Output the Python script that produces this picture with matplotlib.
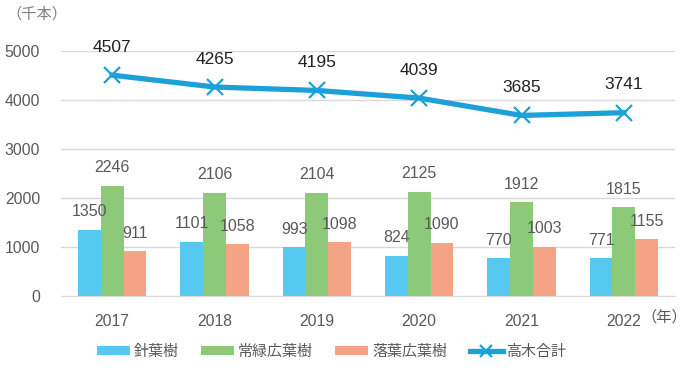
import matplotlib
matplotlib.use("Agg")
import matplotlib.pyplot as plt
from matplotlib.lines import Line2D
from matplotlib.patches import Patch
import numpy as np

plt.rcParams["font.family"] = ["Liberation Sans", "Noto Sans CJK JP", "DejaVu Sans"]

years = ["2017", "2018", "2019", "2020", "2021", "2022"]
conifer = [1350, 1101, 993, 824, 770, 771]
evergreen = [2246, 2106, 2104, 2125, 1912, 1815]
deciduous = [911, 1058, 1098, 1090, 1003, 1155]
total = [4507, 4265, 4195, 4039, 3685, 3741]
series_names = ["針葉樹", "常緑広葉樹", "落葉広葉樹", "高木合計"]

bar_colors = ["#55c9f0", "#8cca7a", "#f4a384"]
line_color = "#1ba1d8"
label_gray = "#595959"
jp_font = ["Noto Sans CJK JP", "DejaVu Sans"]

fig = plt.figure(figsize=(6.94, 3.71), dpi=100)
ax = fig.add_axes([61 / 694, 1 - 296 / 371, 614 / 694, 245 / 371])

x = np.arange(len(years))
width = 0.222
for i, (vals, color) in enumerate(zip([conifer, evergreen, deciduous], bar_colors)):
    pos = x + (i - 1) * width
    ax.bar(pos, vals, width=width, color=color, zorder=2)
    for px, v in zip(pos, vals):
        ax.annotate(str(v), (px, v), xytext=(0, 13), textcoords="offset points",
                    ha="center", va="center", fontsize=11.5, color=label_gray,
                    annotation_clip=False)

ax.plot(x, total, color=line_color, lw=3.8, marker="x", markersize=12,
        markeredgewidth=1.6, zorder=3, clip_on=False)
for px, v in zip(x, total):
    ax.annotate(str(v), (px, v), xytext=(0, 20), textcoords="offset points",
                ha="center", va="center", fontsize=12.5, color="#222222",
                annotation_clip=False)

ax.set_xlim(-0.5, len(years) - 0.5)
ax.set_ylim(0, 5000)
ax.set_yticks(range(0, 5001, 1000))
ax.set_xticks(x)
ax.set_xticklabels(years)
ax.tick_params(axis="both", length=0, labelsize=11.3, labelcolor=label_gray)
ax.tick_params(axis="x", pad=13)
ax.tick_params(axis="y", pad=15)
ax.grid(axis="y", color="#d9d9d9", lw=1, zorder=0)
ax.set_axisbelow(True)
for side in ["top", "right", "left"]:
    ax.spines[side].set_visible(False)
ax.spines["bottom"].set_color("#d9d9d9")

fig.text(6 / 694, 1 - 14 / 371, "（千本）", fontsize=11, color="#7f7f7f",
         va="center", ha="left", family=jp_font)
fig.text(641 / 694, 1 - 317 / 371, "（年）", fontsize=11, color=label_gray,
         va="center", ha="left", family=jp_font)

handles = [Patch(facecolor=c) for c in bar_colors]
handles.append(Line2D([], [], color=line_color, lw=3.8, marker="x",
                      markersize=9, markeredgewidth=1.6))
leg = fig.legend(handles, series_names, loc="center", bbox_to_anchor=(0.478, 1 - 352 / 371),
                 ncol=4, frameon=False, handlelength=2.2, handleheight=0.5,
                 handletextpad=0.25, columnspacing=1.5,
                 prop={"family": jp_font, "size": 10.8})
for t in leg.get_texts():
    t.set_color(label_gray)

fig.savefig("out.png", dpi=100)
